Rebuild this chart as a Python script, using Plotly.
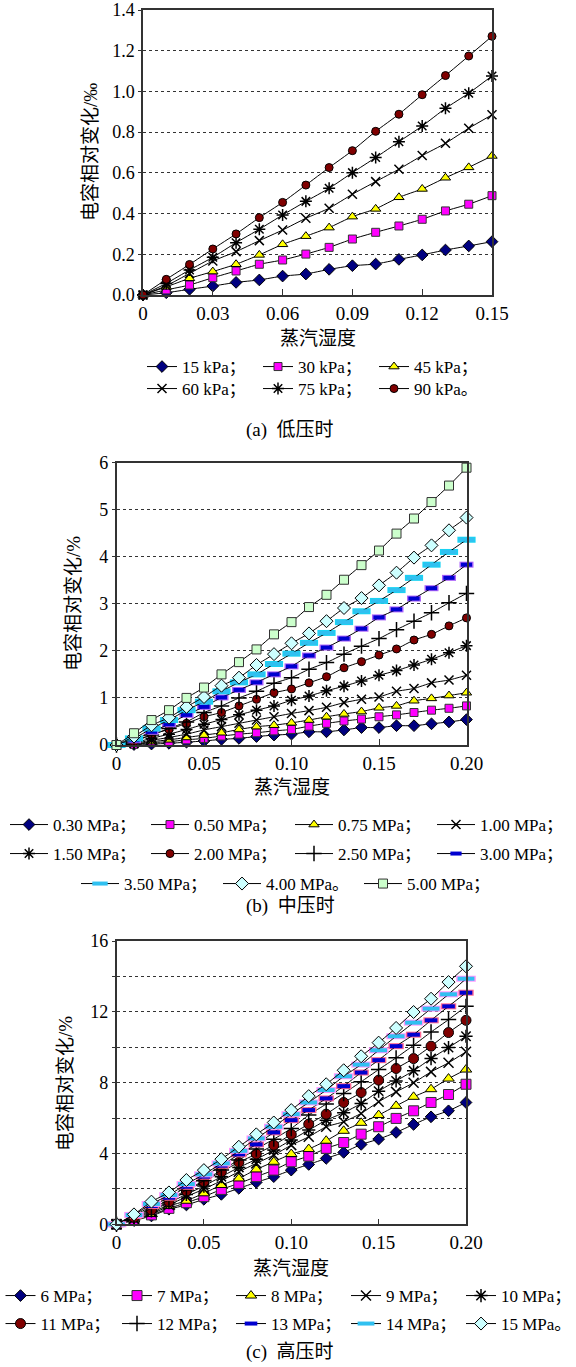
import plotly.graph_objects as go

W, H = 576, 1367
FONT = "Liberation Serif, Noto Sans CJK SC, serif"

# ---------------- data ----------------
HUM_A = [0.00, 0.01, 0.02, 0.03, 0.04, 0.05, 0.06, 0.07, 0.08, 0.09, 0.10, 0.11, 0.12, 0.13, 0.14, 0.15]
HUM_B = [0.00, 0.01, 0.02, 0.03, 0.04, 0.05, 0.06, 0.07, 0.08, 0.09, 0.10,
         0.11, 0.12, 0.13, 0.14, 0.15, 0.16, 0.17, 0.18, 0.19, 0.20]
HUM_C = [0.00, 0.01, 0.02, 0.03, 0.04, 0.05, 0.06, 0.07, 0.08, 0.09, 0.10,
         0.11, 0.12, 0.13, 0.14, 0.15, 0.16, 0.17, 0.18, 0.19, 0.20]

# (a) low pressure, ‰
LABELS_A = ["15 kPa；", "30 kPa；", "45 kPa；", "60 kPa；", "75 kPa；", "90 kPa。"]
A_15 = [0, 0.011, 0.028, 0.044, 0.062, 0.074, 0.093, 0.103, 0.126, 0.144, 0.152, 0.175, 0.197, 0.221, 0.241, 0.262]
A_30 = [0, 0.025, 0.049, 0.085, 0.118, 0.151, 0.172, 0.201, 0.234, 0.275, 0.308, 0.339, 0.372, 0.413, 0.446, 0.488]
A_45 = [0, 0.040, 0.082, 0.115, 0.151, 0.197, 0.249, 0.289, 0.331, 0.385, 0.423, 0.480, 0.521, 0.576, 0.627, 0.683]
A_60 = [0, 0.045, 0.106, 0.167, 0.213, 0.267, 0.319, 0.377, 0.426, 0.495, 0.557, 0.618, 0.685, 0.745, 0.819, 0.885]
A_75 = [0, 0.057, 0.123, 0.185, 0.257, 0.323, 0.393, 0.460, 0.524, 0.601, 0.675, 0.753, 0.830, 0.917, 0.991, 1.076]
A_90 = [0, 0.077, 0.150, 0.226, 0.300, 0.380, 0.455, 0.540, 0.626, 0.709, 0.804, 0.888, 0.984, 1.078, 1.174, 1.271]

# (b) medium pressure, %
LABELS_B = ["0.30 MPa；", "0.50 MPa；", "0.75 MPa；", "1.00 MPa；", "1.50 MPa；", "2.00 MPa；",
            "2.50 MPa；", "3.00 MPa；", "3.50 MPa；", "4.00 MPa。", "5.00 MPa；"]
B_030 = [0, 0.01, 0.02, 0.035, 0.06, 0.085, 0.12, 0.14, 0.18, 0.21, 0.23, 0.28, 0.28, 0.32, 0.37, 0.37, 0.41, 0.41, 0.45, 0.49, 0.54]
B_050 = [0, 0.015, 0.05, 0.07, 0.11, 0.14, 0.19, 0.23, 0.26, 0.30, 0.33, 0.40, 0.46, 0.51, 0.55, 0.60, 0.64, 0.69, 0.74, 0.78, 0.83]
B_075 = [0, 0.02, 0.07, 0.11, 0.16, 0.21, 0.26, 0.33, 0.39, 0.42, 0.47, 0.53, 0.60, 0.66, 0.71, 0.79, 0.83, 0.94, 0.99, 1.05, 1.11]
B_100 = [0, 0.035, 0.10, 0.16, 0.23, 0.32, 0.39, 0.46, 0.53, 0.60, 0.67, 0.73, 0.80, 0.90, 0.97, 1.02, 1.14, 1.20, 1.32, 1.38, 1.48]
B_150 = [0, 0.05, 0.14, 0.23, 0.33, 0.44, 0.54, 0.64, 0.74, 0.83, 0.95, 1.04, 1.15, 1.25, 1.36, 1.48, 1.58, 1.70, 1.82, 1.96, 2.11]
B_200 = [0, 0.07, 0.23, 0.33, 0.46, 0.60, 0.69, 0.83, 0.97, 1.11, 1.19, 1.32, 1.45, 1.64, 1.77, 1.91, 2.04, 2.23, 2.35, 2.53, 2.70]
B_250 = [0, 0.08, 0.21, 0.35, 0.49, 0.69, 0.83, 1.00, 1.14, 1.31, 1.43, 1.61, 1.75, 1.93, 2.10, 2.26, 2.45, 2.63, 2.81, 3.02, 3.22]
B_300 = [0, 0.10, 0.28, 0.44, 0.64, 0.81, 1.01, 1.17, 1.33, 1.50, 1.67, 1.90, 2.07, 2.26, 2.47, 2.71, 2.88, 3.11, 3.33, 3.55, 3.83]
B_350 = [0, 0.14, 0.35, 0.53, 0.74, 0.92, 1.14, 1.33, 1.50, 1.72, 1.94, 2.17, 2.38, 2.61, 2.84, 3.06, 3.29, 3.55, 3.83, 4.10, 4.36]
B_400 = [0, 0.18, 0.42, 0.58, 0.81, 1.02, 1.26, 1.43, 1.70, 1.93, 2.16, 2.37, 2.63, 2.91, 3.12, 3.39, 3.66, 3.98, 4.24, 4.56, 4.83]
B_500 = [0, 0.25, 0.53, 0.74, 1.00, 1.22, 1.50, 1.76, 2.03, 2.35, 2.61, 2.93, 3.19, 3.51, 3.82, 4.13, 4.49, 4.81, 5.16, 5.51, 5.89]

# (c) high pressure, %
LABELS_C = ["6 MPa；", "7 MPa；", "8 MPa；", "9 MPa；", "10 MPa；",
            "11 MPa；", "12 MPa；", "13 MPa；", "14 MPa；", "15 MPa。"]
C_6 = [0, 0.21, 0.47, 0.85, 1.09, 1.41, 1.69, 2.03, 2.37, 2.69, 3.06, 3.38, 3.72, 4.06, 4.51, 4.81, 5.19, 5.64, 6.07, 6.41, 6.88]
C_7 = [0, 0.24, 0.53, 0.90, 1.22, 1.56, 1.97, 2.31, 2.69, 3.06, 3.53, 3.85, 4.29, 4.62, 5.09, 5.51, 5.98, 6.41, 6.88, 7.33, 7.91]
C_8 = [0, 0.28, 0.58, 1.03, 1.33, 1.75, 2.22, 2.59, 3.10, 3.53, 3.97, 4.25, 4.72, 5.28, 5.73, 6.17, 6.69, 7.20, 7.63, 8.23, 8.74]
C_9 = [0, 0.30, 0.68, 1.09, 1.56, 1.99, 2.46, 2.97, 3.44, 3.91, 4.47, 4.94, 5.51, 5.79, 6.26, 6.92, 7.48, 7.99, 8.61, 9.12, 9.74]
C_10 = [0, 0.34, 0.75, 1.22, 1.69, 2.16, 2.69, 3.21, 3.67, 4.19, 4.76, 5.32, 5.88, 6.30, 6.82, 7.52, 8.10, 8.67, 9.36, 9.98, 10.62]
C_11 = [0, 0.39, 0.81, 1.28, 1.88, 2.41, 2.97, 3.50, 3.97, 4.47, 5.08, 5.66, 6.22, 6.88, 7.44, 8.14, 8.80, 9.36, 10.06, 10.83, 11.52]
C_12 = [0, 0.43, 0.90, 1.37, 1.94, 2.46, 3.06, 3.63, 4.25, 4.81, 5.41, 6.17, 6.79, 7.39, 8.05, 8.74, 9.40, 10.11, 10.86, 11.56, 12.31]
C_13 = [0, 0.47, 1.03, 1.50, 2.12, 2.69, 3.31, 3.95, 4.51, 5.19, 5.88, 6.45, 7.11, 7.80, 8.57, 9.27, 10.06, 10.71, 11.52, 12.31, 13.08]
C_14 = [0, 0.53, 1.15, 1.65, 2.27, 2.82, 3.44, 4.15, 4.85, 5.51, 6.22, 6.88, 7.58, 8.36, 9.02, 9.83, 10.62, 11.39, 12.18, 12.99, 13.87]
C_15 = [0, 0.56, 1.28, 1.80, 2.50, 3.06, 3.68, 4.38, 5.08, 5.75, 6.45, 7.24, 7.91, 8.70, 9.49, 10.26, 11.09, 11.99, 12.74, 13.68, 14.57]

# tick labels
XT_A = [0, 0.03, 0.06, 0.09, 0.12, 0.15]
XT_A_TXT = ["0", "0.03", "0.06", "0.09", "0.12", "0.15"]
XT_BC = [0, 0.05, 0.10, 0.15, 0.20]
XT_BC_TXT = ["0", "0.05", "0.10", "0.15", "0.20"]
YT_A = [0, 0.2, 0.4, 0.6, 0.8, 1.0, 1.2, 1.4]
YT_A_TXT = ["0.0", "0.2", "0.4", "0.6", "0.8", "1.0", "1.2", "1.4"]
YT_B = [0, 1, 2, 3, 4, 5, 6]
YT_C = [0, 4, 8, 12, 16]

# ---------------- styles ----------------
BLK = dict(color="black", width=1)
M = {
    "dia_navy": dict(symbol="diamond", color="#000080", line=BLK, size=9),
    "sq_mag": dict(symbol="square", color="#FF00FF", line=dict(color="#333333", width=1), size=8),
    "tri_yel": dict(symbol="triangle-up", color="#FFFF00", line=BLK, size=9),
    "x": dict(symbol="x-thin-open", color="black", line=dict(color="black", width=1.5), size=9),
    "ast": dict(symbol="asterisk-open", color="black", line=dict(color="black", width=1.5), size=10),
    "circ": dict(symbol="circle", color="#800000", line=BLK, size=8),
    "plus": dict(symbol="cross-thin-open", color="black", line=dict(color="black", width=1.5), size=11),
    "bar_blue": dict(symbol="line-ew-open", color="#0000D0", line=dict(color="#0000D0", width=4), size=8),
    "bar_sky": dict(symbol="line-ew-open", color="#30C0F0", line=dict(color="#30C0F0", width=4), size=11),
    "dia_cyan": dict(symbol="diamond", color="#CCFFFF", line=BLK, size=10),
    "sq_green": dict(symbol="square", color="#CCFFCC", line=dict(color="#333333", width=1), size=9),
}
BAR_KEYS = ("bar_blue", "bar_sky")

# legend item layout (pixel positions of each entry's start; rows)
LEG_A = [(142, 367), (258, 367), (374, 367), (142, 389), (258, 389), (374, 389)]
LEG_B = [(5, 825), (146, 825), (290, 825), (432, 825),
         (5, 854), (146, 854), (290, 854), (432, 854),
         (76, 884), (218, 884), (359, 884)]
LEG_C = [(0.5, 1296), (117, 1296), (231, 1296), (346, 1296), (461, 1296),
         (0.5, 1324), (117, 1324), (231, 1324), (346, 1324), (461, 1324)]

fig = go.Figure()
legends = {}
leg_count = [0]


def new_legend(xpx, ypx, itemwidth):
    leg_count[0] += 1
    key = "legend" if leg_count[0] == 1 else "legend%d" % leg_count[0]
    legends[key] = dict(
        orientation="h", xref="container", yref="container",
        x=xpx / W, y=1 - ypx / H, xanchor="left", yanchor="middle",
        bgcolor="rgba(0,0,0,0)", borderwidth=0, itemwidth=itemwidth,
        font=dict(family=FONT, size=17, color="black"),
        itemclick=False, itemdoubleclick=False,
    )
    return key


def add(x, y, name, mk, xa, ya, leg, msize=None):
    m = dict(M[mk])
    if msize is not None:
        m["size"] = msize
    if mk in BAR_KEYS:
        # black outline underneath the coloured dash marker
        fig.add_trace(go.Scatter(
            x=x, y=y, mode="markers", showlegend=False, hoverinfo="skip",
            marker=dict(symbol="line-ew-open", size=m["size"] + 2,
                        line=dict(color="black", width=m["line"]["width"] + 2)),
            xaxis=xa, yaxis=ya, cliponaxis=False,
        ))
    fig.add_trace(go.Scatter(
        x=x, y=y, name=name, mode="lines+markers",
        line=dict(color="black", width=1, shape="spline", smoothing=0.4),
        marker=m, xaxis=xa, yaxis=ya, legend=leg, cliponaxis=False,
    ))


# (a)
A_SERIES = [A_15, A_30, A_45, A_60, A_75, A_90]
A_MK = ["dia_navy", "sq_mag", "tri_yel", "x", "ast", "circ"]
for i, (s, mk) in enumerate(zip(A_SERIES, A_MK)):
    add(HUM_A, s, LABELS_A[i], mk, "x", "y", new_legend(*LEG_A[i], 30))

# (b)
B_SERIES = [B_030, B_050, B_075, B_100, B_150, B_200, B_250, B_300, B_350, B_400, B_500]
B_MK = ["dia_navy", "sq_mag", "tri_yel", "x", "ast", "circ", "plus", "bar_blue", "bar_sky", "dia_cyan", "sq_green"]
for i, (s, mk) in enumerate(zip(B_SERIES, B_MK)):
    add(HUM_B, s, LABELS_B[i], mk, "x2", "y2", new_legend(*LEG_B[i], 38))

# (c)
C_SERIES = [C_6, C_7, C_8, C_9, C_10, C_11, C_12, C_13, C_14, C_15]
C_MK = ["dia_navy", "sq_mag", "tri_yel", "x", "ast", "circ", "plus", "bar_blue", "bar_sky", "dia_cyan"]
C_SIZE = [9, 10, 10, 10, 11, 10, 11, 9, 12, 10]
for i, (s, mk) in enumerate(zip(C_SERIES, C_MK)):
    add(HUM_C, s, LABELS_C[i], mk, "x3", "y3", new_legend(*LEG_C[i], 30), C_SIZE[i])


def px_x(v):
    return v / W


def px_y(v):
    return 1 - v / H


GRID = dict(showgrid=True, gridcolor="#333333", griddash="dot", gridwidth=1)
AX = dict(showline=True, mirror=True, linecolor="#333333", linewidth=1.5, zeroline=False, color="black")

xa_common = dict(AX, ticks="inside", ticklen=6, tickcolor="#333333", showgrid=False, tickmode="array",
                 tickfont=dict(family=FONT, size=19, color="black"))
ya_common = dict(AX, ticks="outside", ticklen=3, tickcolor="#333333", tickmode="array",
                 tickfont=dict(family=FONT, size=18, color="black"), **GRID)

fig.update_layout(
    width=W, height=H, margin=dict(l=0, r=0, t=0, b=0, autoexpand=False),
    paper_bgcolor="white", plot_bgcolor="white",
    font=dict(family=FONT, size=18, color="black"),
    xaxis=dict(xa_common, domain=[px_x(143), px_x(492)], range=[0, 0.15],
               tickvals=XT_A, ticktext=XT_A_TXT, anchor="y"),
    yaxis=dict(ya_common, domain=[px_y(295), px_y(10)], range=[0, 1.4],
               tickvals=YT_A, ticktext=YT_A_TXT, anchor="x"),
    xaxis2=dict(xa_common, domain=[px_x(116.5), px_x(466.5)], range=[0, 0.20],
                tickvals=XT_BC, ticktext=XT_BC_TXT, anchor="y2"),
    yaxis2=dict(ya_common, domain=[px_y(745), px_y(462.5)], range=[0, 6],
                tickvals=YT_B, anchor="x2"),
    xaxis3=dict(xa_common, domain=[px_x(116.5), px_x(466)], range=[0, 0.20],
                tickvals=XT_BC, ticktext=XT_BC_TXT, anchor="y3"),
    yaxis3=dict(ya_common, domain=[px_y(1224.3), px_y(941)], range=[0, 16],
                tickvals=YT_C, anchor="x3",
                minor=dict(dtick=2, tick0=0, showgrid=True, gridcolor="#333333", griddash="dot",
                           ticks="outside", ticklen=3, tickcolor="#333333")),
    showlegend=True,
)
fig.update_layout(**legends)

ann = []
TF = dict(family=FONT, size=19, color="black")
# x-axis titles
for xc, yc in [(317.5, 338), (291.5, 787), (291, 1268)]:
    ann.append(dict(text="蒸汽湿度", x=px_x(xc), y=px_y(yc), xref="paper", yref="paper",
                    showarrow=False, font=TF, xanchor="center", yanchor="middle"))
# y-axis titles
for txt, xc, yc in [("电容相对变化/‰", 90, 152), ("电容相对变化/%", 73, 604), ("电容相对变化/%", 65, 1084)]:
    ann.append(dict(text=txt, x=px_x(xc), y=px_y(yc), xref="paper", yref="paper", textangle=-90,
                    showarrow=False, font=TF, xanchor="center", yanchor="middle"))
# captions
for txt, yc in [("(a)  低压时", 430), ("(b)  中压时", 906), ("(c)  高压时", 1352)]:
    ann.append(dict(text=txt, x=px_x(290), y=px_y(yc), xref="paper", yref="paper",
                    showarrow=False, font=TF, xanchor="center", yanchor="middle"))
fig.update_layout(annotations=ann)

fig.write_html("out.html", config={"displayModeBar": False},
               post_script="document.body.style.margin='0px';document.body.style.padding='0px';")
